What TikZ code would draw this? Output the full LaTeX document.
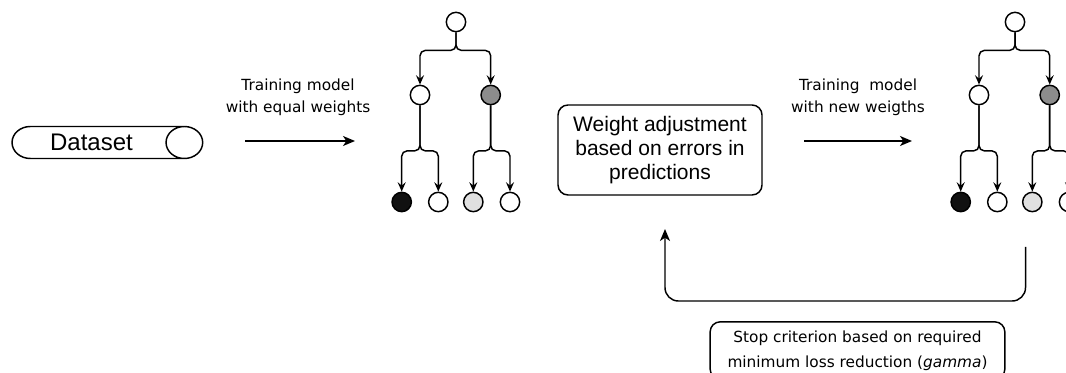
\documentclass[tikz,border=0pt]{standalone}
\usepackage{fontspec}
\setmainfont{Liberation Sans}
\newfontfamily\labelfont{DejaVu Sans}
\usetikzlibrary{arrows.meta,shapes.geometric}
\definecolor{midgray}{HTML}{8C8C8C}
\definecolor{leafgray}{HTML}{E0E0E0}
\definecolor{leafblack}{HTML}{111111}

\begin{document}
\begin{tikzpicture}[x=0.75pt, y=-0.75pt, line width=1.1pt]
\tikzset{vertex/.style = {shape=circle,draw,fill=white,minimum size=14.5pt,inner sep=0pt}}
\tikzset{edge/.style = {-{Stealth[length=9pt,width=7.5pt,inset=2.5pt]}}}
\tikzset{branch/.style = {-{Stealth[length=7pt,width=6pt,inset=2.5pt]}, rounded corners=4pt}}
\tikzset{note/.style = {align=center, font=\labelfont\fontsize{11.5}{16.5}\selectfont}}
\tikzset{textbox/.style = {draw, rounded corners=7.5pt, align=center}}

\useasboundingbox (0,0) rectangle (1066,373);
\clip (0,0) rectangle (1066,373);

\node[cylinder, draw, shape aspect=1.43, minimum width=24pt, minimum height=143pt,
      font=\fontsize{18}{20}\selectfont] (DS) at (91.5,142.5) {Dataset};

% first tree
\node[vertex] (A) at (456,22) {};
\node[vertex] (B) at (420,95) {};
\node[vertex, fill=midgray] (C) at (490.7,95) {};
\node[vertex, fill=leafblack] (D) at (401.7,202) {};
\node[vertex] (E) at (438.3,202) {};
\node[vertex, fill=leafgray] (F) at (473.3,202) {};
\node[vertex] (G) at (510,202) {};

% second tree
\node[vertex] (H) at (1015,22) {};
\node[vertex] (I) at (979,95) {};
\node[vertex, fill=midgray] (J) at (1049.7,95) {};
\node[vertex, fill=leafblack] (K) at (960.7,202) {};
\node[vertex] (L) at (997.3,202) {};
\node[vertex, fill=leafgray] (M) at (1032.3,202) {};
\node[vertex] (N) at (1069,202) {};

%edges
\draw[branch] (A.south) -- ++(0,18) -| (B.north);
\draw[branch] (A.south) -- ++(0,18) -| (C.north);
\draw[branch] (B.south) -- ++(0,45.5) -| (D.north);
\draw[branch] (B.south) -- ++(0,45.5) -| (E.north);
\draw[branch] (C.south) -- ++(0,45.5) -| (F.north);
\draw[branch] (C.south) -- ++(0,45.5) -| (G.north);

\draw[branch] (H.south) -- ++(0,18) -| (I.north);
\draw[branch] (H.south) -- ++(0,18) -| (J.north);
\draw[branch] (I.south) -- ++(0,45.5) -| (K.north);
\draw[branch] (I.south) -- ++(0,45.5) -| (L.north);
\draw[branch] (J.south) -- ++(0,45.5) -| (M.north);
\draw[branch] (J.south) -- ++(0,45.5) -| (N.north);

% training steps
\node[note] (T1) at (298,97) {Training model\\with equal weights};
\coordinate (P1) at (245,141);
\coordinate (P2) at (355,141);
\draw[edge] (P1) -- (P2);

\node[textbox, minimum width=153pt, minimum height=67.5pt,
      font=\fontsize{15.75}{18}\selectfont] (W) at (660,150)
      {Weight adjustment\\based on errors in\\predictions};

\node[note] (T2) at (858,97) {Training\ \ model\\with new weigths};
\coordinate (P3) at (804,141);
\coordinate (P4) at (912,141);
\draw[edge] (P3) -- (P4);

% feedback loop
\coordinate (Q1) at (1025.5,247);
\coordinate (Q2) at (665,229);
\draw[edge, rounded corners=10pt] (Q1) -- ++(0,54) -| (Q2);

\node[textbox, note, font=\labelfont\fontsize{11.5}{18.5}\selectfont,
      minimum width=221pt, minimum height=43pt] (S) at (857.5,350.5)
      {Stop criterion based on required\\minimum loss reduction (\textit{gamma})};

\end{tikzpicture}
\end{document}
